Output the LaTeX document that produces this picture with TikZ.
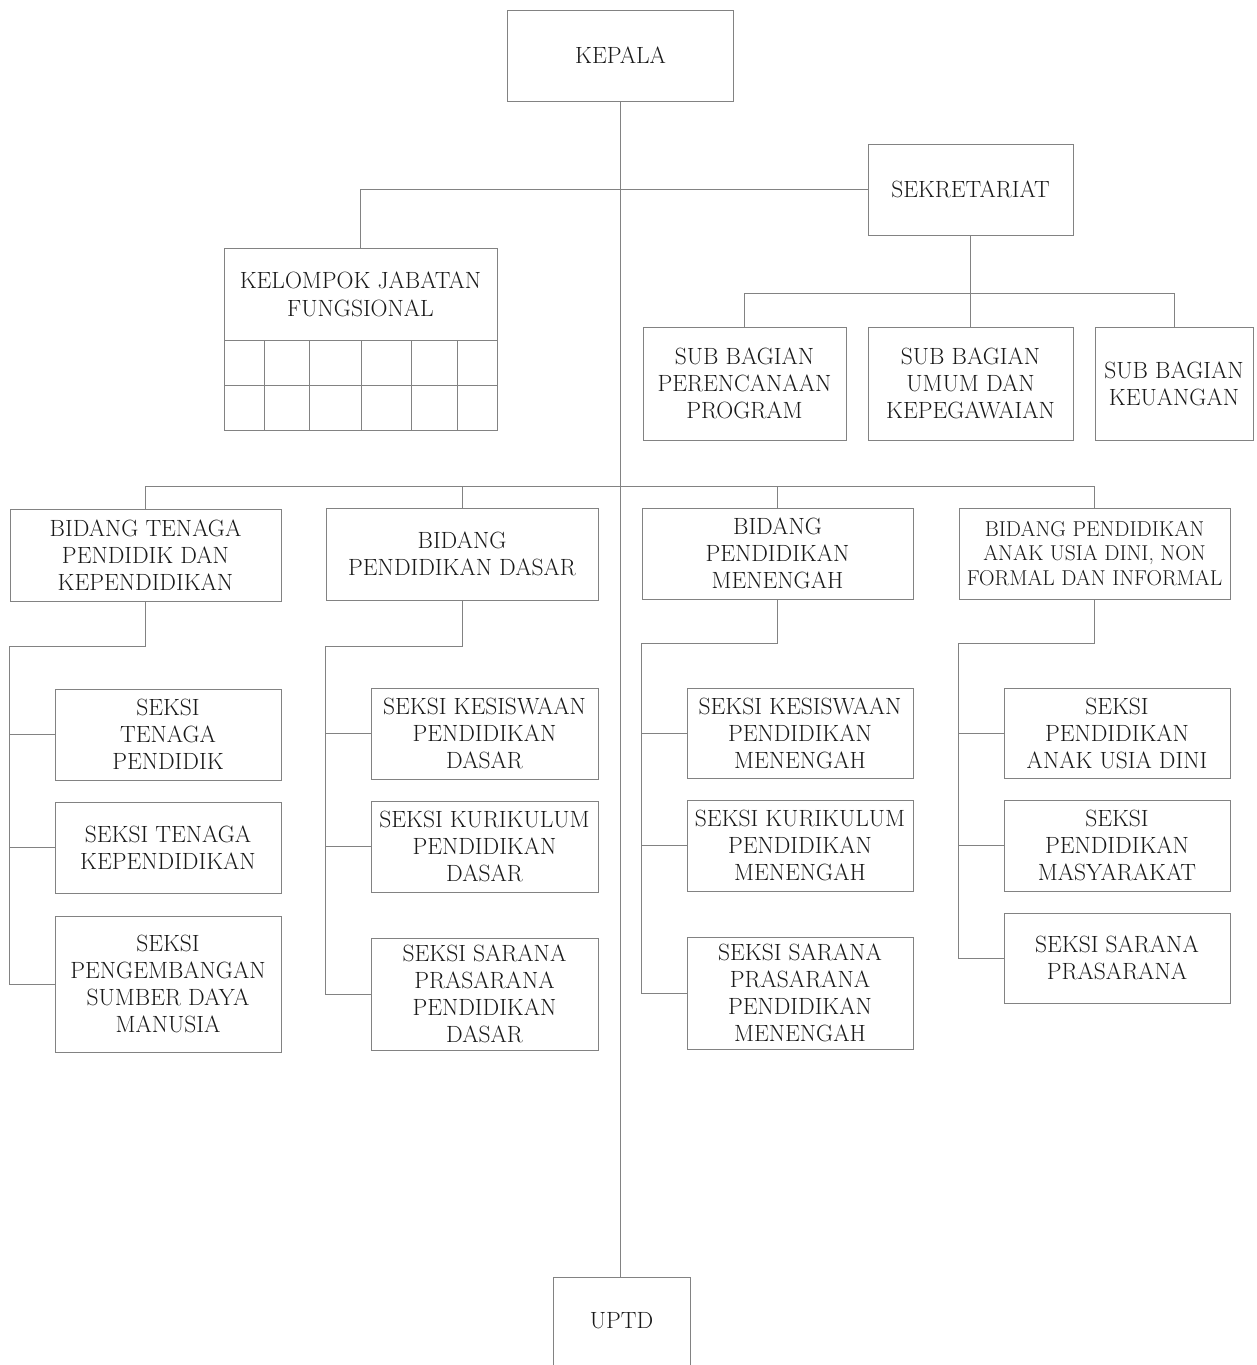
\documentclass[tikz,border=0pt]{standalone}
\usepackage{xcolor}
\definecolor{linegray}{RGB}{130,130,130}
\definecolor{textgray}{RGB}{25,25,25}
\begin{document}
\begin{tikzpicture}[x=1pt,y=-1pt,
  orgbox/.style={draw=linegray, line width=1pt, inner sep=0pt, align=center,
    text=textgray, font=\fontsize{23.5}{27}\selectfont},
  smallbox/.style={orgbox, font=\fontsize{21.5}{24.5}\selectfont},
  conn/.style={draw=linegray, line width=1pt},
  lbl/.style={inner sep=0pt, align=center, text=textgray, font=\fontsize{23.5}{28}\selectfont}]
\path[use as bounding box, fill=white] (0,0) rectangle (1257,1365);
\begin{scope}
\clip (0,0) rectangle (1257,1365);
% top
\node[orgbox, minimum width=226, minimum height=91] (kepala) at (620.5,55.5) {KEPALA};
\node[orgbox, minimum width=205, minimum height=91] (sek) at (970.5,189.5) {SEKRETARIAT};
% kelompok jabatan fungsional
\node[draw=linegray, line width=1pt, minimum width=273, minimum height=182, inner sep=0pt] (kjf) at (360.5,339) {};
\node[lbl] (kjft) at (360.5,294) {KELOMPOK JABATAN\\FUNGSIONAL};
\draw[conn] (224,340) -- (497,340);
\draw[conn] (224,385) -- (497,385);
\foreach \gx in {264,309,361,411,457} \draw[conn] (\gx,340) -- (\gx,430);
% sub bagian
\node[orgbox, minimum width=203, minimum height=113] (sb1) at (744.5,383.5) {SUB BAGIAN\\PERENCANAAN\\PROGRAM};
\node[orgbox, minimum width=205, minimum height=113] (sb2) at (970.5,383.5) {SUB BAGIAN\\UMUM DAN\\KEPEGAWAIAN};
\node[orgbox, minimum width=158, minimum height=113] (sb3) at (1174,383.5) {SUB BAGIAN\\KEUANGAN};
% bidang
\node[orgbox, minimum width=271, minimum height=92] (b1) at (145.5,555) {BIDANG TENAGA\\PENDIDIK DAN\\KEPENDIDIKAN};
\node[orgbox, minimum width=272, minimum height=92] (b2) at (462,554) {BIDANG\\PENDIDIKAN DASAR};
\node[orgbox, minimum width=271, minimum height=91] (b3) at (777.5,553.5) {BIDANG\\PENDIDIKAN\\MENENGAH};
\node[smallbox, minimum width=271, minimum height=91] (b4) at (1094.5,553.5) {BIDANG PENDIDIKAN\\ANAK USIA DINI, NON\\FORMAL DAN INFORMAL};
% seksi column 1
\node[orgbox, minimum width=226, minimum height=91] (s11) at (168,734.5) {SEKSI\\TENAGA\\PENDIDIK};
\node[orgbox, minimum width=226, minimum height=91] (s12) at (168,847.5) {SEKSI TENAGA\\KEPENDIDIKAN};
\node[orgbox, minimum width=226, minimum height=136] (s13) at (168,984) {SEKSI\\PENGEMBANGAN\\SUMBER DAYA\\MANUSIA};
% seksi column 2
\node[orgbox, minimum width=227, minimum height=91] (s21) at (484.5,733.5) {SEKSI KESISWAAN\\PENDIDIKAN\\DASAR};
\node[orgbox, minimum width=227, minimum height=91] (s22) at (484.5,846.5) {SEKSI KURIKULUM\\PENDIDIKAN\\DASAR};
\node[orgbox, minimum width=227, minimum height=112] (s23) at (484.5,994) {SEKSI SARANA\\PRASARANA\\PENDIDIKAN\\DASAR};
% seksi column 3
\node[orgbox, minimum width=226, minimum height=90] (s31) at (800,733) {SEKSI KESISWAAN\\PENDIDIKAN\\MENENGAH};
\node[orgbox, minimum width=226, minimum height=91] (s32) at (800,845.5) {SEKSI KURIKULUM\\PENDIDIKAN\\MENENGAH};
\node[orgbox, minimum width=226, minimum height=112] (s33) at (800,993) {SEKSI SARANA\\PRASARANA\\PENDIDIKAN\\MENENGAH};
% seksi column 4
\node[orgbox, minimum width=226, minimum height=90] (s41) at (1117,733) {SEKSI\\PENDIDIKAN\\ANAK USIA DINI};
\node[orgbox, minimum width=226, minimum height=91] (s42) at (1117,845.5) {SEKSI\\PENDIDIKAN\\MASYARAKAT};
\node[orgbox, minimum width=226, minimum height=90] (s43) at (1117,958) {SEKSI SARANA\\PRASARANA};
% UPTD
\node[orgbox, minimum width=137, minimum height=88] (uptd) at (621.5,1321) {UPTD};
% connectors
\coordinate (sekj) at (970.5,293);
\coordinate (bj) at (620.5,486);
\draw[conn] (kepala.south) -- (kepala.south |- uptd.north);
\draw[conn] (kjf.north) |- (sek.west);
\draw[conn] (sek.south) -- (sb2.north);
\draw[conn] (sb1.north) -- (sb1.north |- sekj) -- (sb3.north |- sekj) -- (sb3.north);
\draw[conn] (b1.north) -- (b1.north |- bj) -- (b4.north |- bj) -- (b4.north);
\draw[conn] (b2.north) -- (b2.north |- bj);
\draw[conn] (b3.north) -- (b3.north |- bj);
% column rails
\draw[conn] (b1.south) -- ++(0,45) -| (s13.west -| b1.west) -- (s13.west);
\draw[conn] (s11.west) -- (s11.west -| b1.west);
\draw[conn] (s12.west) -- (s12.west -| b1.west);
\draw[conn] (b2.south) -- ++(0,46) -| (s23.west -| b2.west) -- (s23.west);
\draw[conn] (s21.west) -- (s21.west -| b2.west);
\draw[conn] (s22.west) -- (s22.west -| b2.west);
\draw[conn] (b3.south) -- ++(0,44) -| (s33.west -| b3.west) -- (s33.west);
\draw[conn] (s31.west) -- (s31.west -| b3.west);
\draw[conn] (s32.west) -- (s32.west -| b3.west);
\draw[conn] (b4.south) -- ++(0,44) -| (s43.west -| b4.west) -- (s43.west);
\draw[conn] (s41.west) -- (s41.west -| b4.west);
\draw[conn] (s42.west) -- (s42.west -| b4.west);
\end{scope}
\end{tikzpicture}
\end{document}
